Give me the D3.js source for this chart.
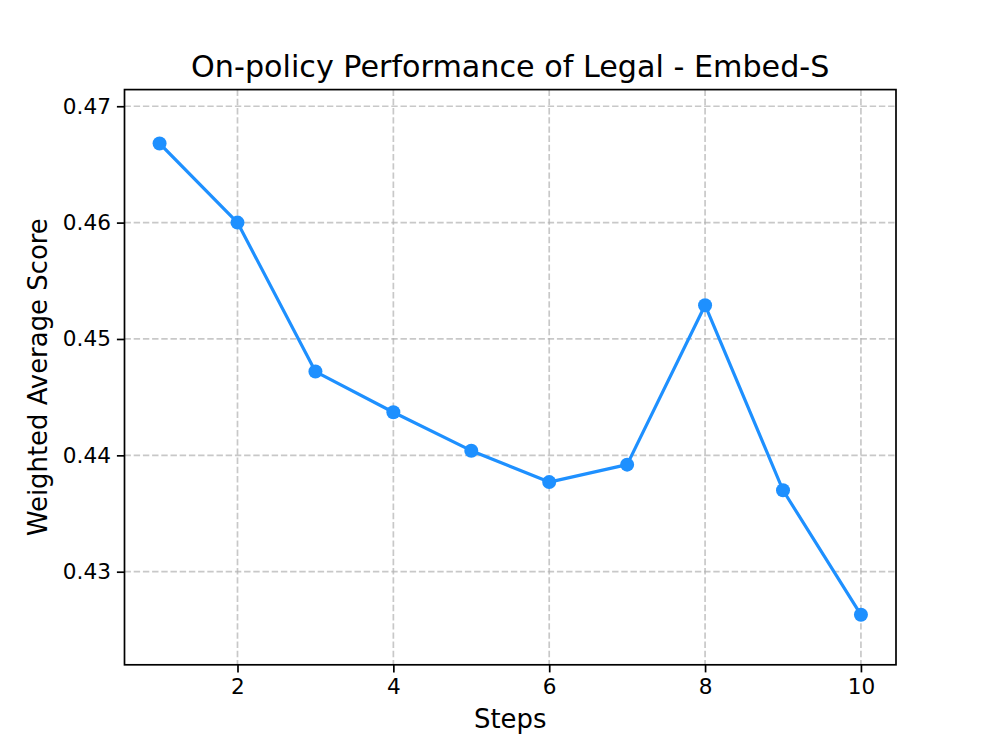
<!DOCTYPE html>
<html>
<head>
<meta charset="utf-8">
<script src="https://cdn.jsdelivr.net/npm/d3@7"></script>
<style>
  html, body { margin: 0; padding: 0; background: #fff; }
  text { font-family: "DejaVu Sans", sans-serif; fill: #000; }
</style>
</head>
<body>
<svg id="chart" width="996" height="747"></svg>
<script>
const steps = [1, 2, 3, 4, 5, 6, 7, 8, 9, 10];
const scores = [0.4668, 0.4600, 0.4472, 0.4437, 0.4404, 0.4377, 0.4392, 0.4529, 0.4370, 0.4263];
const xTicks = [2, 4, 6, 8, 10];
const yTicks = [0.43, 0.44, 0.45, 0.46, 0.47];
const titleText = "On-policy Performance of Legal - Embed-S";
const xLabel = "Steps";
const yLabel = "Weighted Average Score";

const W = 996, H = 747;
const m = { left: 124.5, right: 896, top: 89.6, bottom: 664.8 };
const svg = d3.select("#chart");
svg.append("rect").attr("width", W).attr("height", H).attr("fill", "#fff");

const x = d3.scaleLinear().domain([0.55, 10.45]).range([m.left, m.right]);
const y = d3.scaleLinear().domain([0.42200, 0.47143]).range([m.bottom, m.top]);

// grid
const grid = svg.append("g");
grid.selectAll(".gx").data(xTicks).enter().append("line")
  .attr("x1", d => x(d)).attr("x2", d => x(d))
  .attr("y1", m.top).attr("y2", m.bottom)
  .attr("stroke", "#b0b0b0").attr("stroke-opacity", 0.7)
  .attr("stroke-width", 1.7).attr("stroke-dasharray", "6.4,2.8");
grid.selectAll(".gy").data(yTicks).enter().append("line")
  .attr("x1", m.left).attr("x2", m.right)
  .attr("y1", d => y(d)).attr("y2", d => y(d))
  .attr("stroke", "#b0b0b0").attr("stroke-opacity", 0.7)
  .attr("stroke-width", 1.7).attr("stroke-dasharray", "6.4,2.8");

// line + markers
const line = d3.line().x((d, i) => x(steps[i])).y(d => y(d));
svg.append("path").datum(scores).attr("d", line)
  .attr("fill", "none").attr("stroke", "#1E90FF").attr("stroke-width", 3.2)
  .attr("stroke-linejoin", "round").attr("stroke-linecap", "square");
svg.selectAll(".pt").data(scores).enter().append("circle")
  .attr("cx", (d, i) => x(steps[i])).attr("cy", d => y(d)).attr("r", 7)
  .attr("fill", "#1E90FF");

// axes
const xAxis = d3.axisBottom(x).tickValues(xTicks).tickFormat(d3.format("d"))
  .tickSizeInner(7.6).tickSizeOuter(0).tickPadding(6);
const yAxis = d3.axisLeft(y).tickValues(yTicks).tickFormat(d3.format(".2f"))
  .tickSizeInner(7.6).tickSizeOuter(0).tickPadding(6);
const gx = svg.append("g").attr("transform", `translate(0,${m.bottom})`).call(xAxis);
const gy = svg.append("g").attr("transform", `translate(${m.left},0)`).call(yAxis);
[gx, gy].forEach(g => {
  g.select(".domain").remove();
  g.selectAll(".tick line").attr("stroke", "#000").attr("stroke-width", 1.7);
  g.selectAll(".tick text").attr("font-family", "DejaVu Sans").attr("font-size", 21.6).attr("fill", "#000");
});

// frame
svg.append("rect").attr("x", m.left).attr("y", m.top)
  .attr("width", m.right - m.left).attr("height", m.bottom - m.top)
  .attr("fill", "none").attr("stroke", "#000").attr("stroke-width", 1.7);

// texts
svg.append("text").attr("x", (m.left + m.right) / 2).attr("y", 77)
  .attr("text-anchor", "middle").attr("font-size", 30.2).text(titleText);
svg.append("text").attr("x", (m.left + m.right) / 2).attr("y", 728)
  .attr("text-anchor", "middle").attr("font-size", 25.9).text(xLabel);
svg.append("text").attr("transform", `translate(47,${(m.top + m.bottom) / 2}) rotate(-90)`)
  .attr("text-anchor", "middle").attr("font-size", 25.9).text(yLabel);
</script>
</body>
</html>
